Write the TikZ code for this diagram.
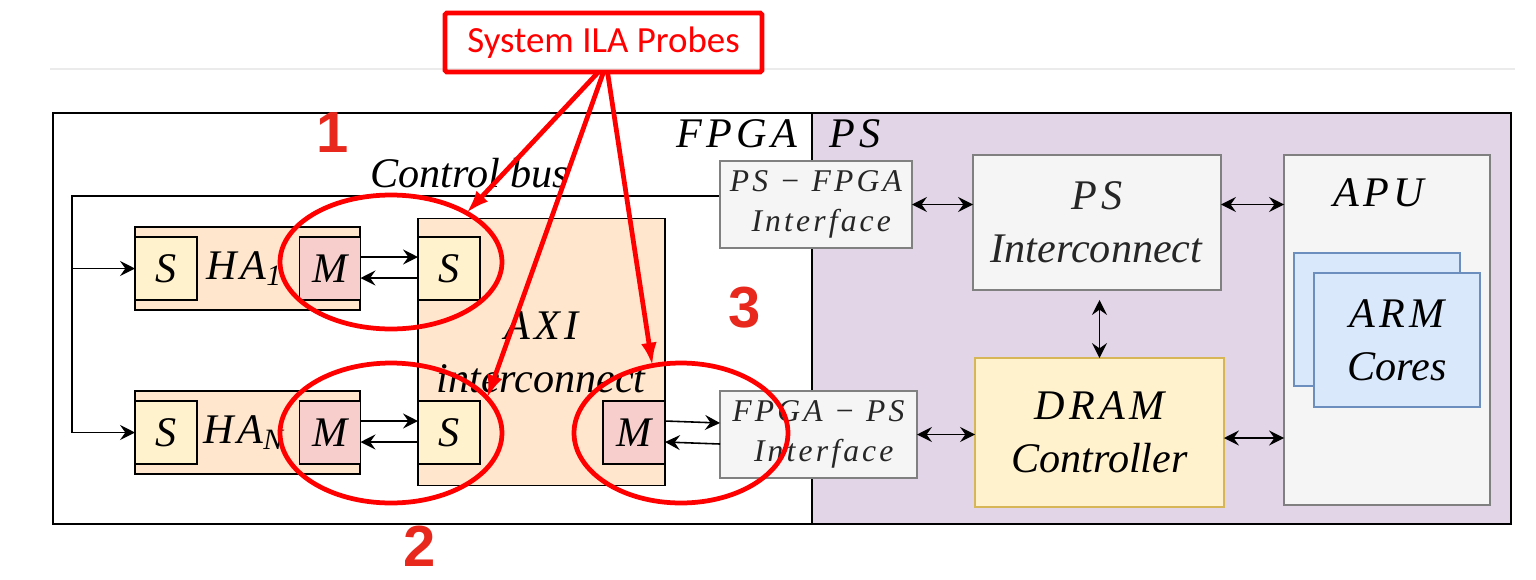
\documentclass[tikz,border=0pt]{standalone}
\usepackage{fontspec}
\setmainfont{Liberation Serif}
\newfontfamily\spacedfont[LetterSpace=10]{Liberation Serif}
\newfontfamily\ilafont{Carlito}
\newfontfamily\numfont{Liberation Sans}
\newcommand{\mt}[1]{{\spacedfont\itshape #1}}
\usepackage{tikz}
\usetikzlibrary{arrows,arrows.meta,shapes.geometric}
\definecolor{psbg}{HTML}{E1D5E7}
\definecolor{peach}{HTML}{FFE6CC}
\definecolor{slavebg}{HTML}{FFF2CC}
\definecolor{masterbg}{HTML}{F8CECC}
\definecolor{grayfill}{HTML}{F5F5F5}
\definecolor{grayline}{HTML}{808080}
\definecolor{dramline}{HTML}{D6B656}
\definecolor{armbg}{HTML}{DAE8FC}
\definecolor{armline}{HTML}{6C8EBF}
\definecolor{probered}{HTML}{FF0000}
\definecolor{numred}{HTML}{E8281C}

\begin{document}
\begin{tikzpicture}[x=0.02cm,y=-0.02cm,>={Stealth[length=8.5pt,width=8.5pt,inset=3pt]},line width=0.9pt,
  every node/.style={inner sep=0pt,outer sep=0pt}]
\tikzstyle{big}=[font=\fontsize{24}{30}\selectfont]
\tikzstyle{small}=[font=\fontsize{18}{25}\selectfont]
\tikzstyle{haport}=[draw,fill=peach,minimum width=4.5cm,minimum height=1.66cm]
\tikzstyle{sport}=[draw,fill=slavebg,big,minimum width=1.24cm,minimum height=1.26cm]
\tikzstyle{mport}=[draw,fill=masterbg,big,minimum width=1.22cm,minimum height=1.26cm]
\tikzstyle{graybox}=[draw=grayline,fill=grayfill,text=black!85,align=center]
\tikzstyle{probe}=[draw=probered,line width=2.7pt]
\tikzstyle{tag}=[text=numred,font=\numfont\bfseries\fontsize{33}{33}\selectfont]

\useasboundingbox (0,0) rectangle (1536,579);

% the two halves of the chip
\node[draw,fill=white,minimum width=15.18cm,minimum height=8.22cm] (fpga) at (432.5,318.5) {};
\node[draw,fill=psbg,minimum width=13.98cm,minimum height=8.22cm] (ps) at (1161.5,318.5) {};
\draw[black!8,line width=0.6pt] (50,69) -- (1515,69);
\node[big] (fpgalbl) at (737,134) {\mt{FPGA}};
\node[big] (pslbl) at (855,134) {\mt{PS}};

% control bus
\coordinate (cbend) at (720,196);
\coordinate (cbtop) at (72,196);
\coordinate (cbbot) at (72,432.5);
\node[big,font=\fontsize{24}{30}\selectfont\itshape] (cblbl) at (470,173) {Control bus};
\draw (cbend) -- (cbtop) -- (cbbot);

% hardware accelerators
\node[haport] (ha1) at (247.5,268.5) {};
\node[sport] (ha1s) at (166,268.5) {\mt{S}};
\node[big,anchor=west] (ha1lbl) at (206,268.5) {\mt{HA}\textsubscript{\mt{1}}};
\node[mport] (ha1m) at (330,268.5) {\mt{M}};

\node[haport] (han) at (247.5,432.5) {};
\node[sport] (hans) at (166,432.5) {\mt{S}};
\node[big,anchor=west] (hanlbl) at (203,432.5) {\mt{HA}\textsubscript{\mt{N}}};
\node[mport] (hanm) at (330,432.5) {\mt{M}};

\draw[->] (cbtop |- ha1s.west) -- (ha1s.west);
\draw[->] (cbbot) -- (hans.west);

% AXI interconnect
\node[draw,fill=peach,big,align=center,minimum width=4.94cm,minimum height=5.34cm] (axi) at (541.5,352)
  {\mt{AXI}\\\textit{interconnect}};
\node[sport] (axis1) at (449,268.5) {\mt{S}};
\node[sport] (axis2) at (449,432.5) {\mt{S}};
\node[mport,minimum width=1.24cm] (axim) at (634,432.5) {\mt{M}};

\draw[->] ([yshift=0.23cm]ha1m.east) -- ([yshift=0.23cm]axis1.west);
\draw[<-] ([yshift=-0.19cm]ha1m.east) -- ([yshift=-0.19cm]axis1.west);
\draw[->] ([yshift=0.23cm]hanm.east) -- ([yshift=0.23cm]axis2.west);
\draw[<-] ([yshift=-0.19cm]hanm.east) -- ([yshift=-0.19cm]axis2.west);

% processing system
\node[graybox,small,minimum width=3.84cm,minimum height=1.74cm] (psfpga) at (816,204.5)
  {\mt{PS − FPGA}\\[-2pt]\hspace{6pt}\mt{Interface}};
\node[graybox,small,minimum width=3.94cm,minimum height=1.74cm] (fpgaps) at (818.5,434.5)
  {\mt{FPGA − PS}\\[-2pt]\hspace{6pt}\mt{Interface}};
\node[graybox,big,minimum width=4.96cm,minimum height=2.7cm] (psint) at (1097,222.5)
  {\mt{PS}\\\textit{Interconnect}};
\node[draw=dramline,fill=slavebg,big,align=center,minimum width=4.98cm,minimum height=2.98cm] (dram) at (1099.5,432.5)
  {\mt{DRAM}\\\textit{Controller}};
\node[graybox,minimum width=4.12cm,minimum height=7cm] (apu) at (1387,330) {};
\node[big] (apulbl) at (1379,193) {\mt{APU}};
\node[draw=armline,fill=armbg,minimum width=3.32cm,minimum height=2.66cm] (armb) at (1377,319.5) {};
\node[draw=armline,fill=armbg,big,align=center,minimum width=3.32cm,minimum height=2.68cm] (armf) at (1397,340)
  {\mt{ARM}\\\textit{Cores}};

\draw[->] ([yshift=0.23cm]axim.east) -- ([yshift=0.23cm]fpgaps.west);
\draw[<-] ([yshift=-0.19cm]axim.east) -- ([yshift=-0.19cm]fpgaps.west);
\draw[<->] (psfpga.east) -- (psint.west |- psfpga.east);
\draw[<->] (psint.east |- psfpga.east) -- (apu.west |- psfpga.east);
\draw[<->] ([yshift=-0.2cm]psint.south -| dram.north) -- (dram.north);
\draw[<->] (fpgaps.east) -- (dram.west |- fpgaps.east);
\draw[<->] (dram.east |- 0,438) -- (apu.west |- 0,438);

% probes
\node[probe,draw,rounded corners=1pt,minimum width=6.34cm,minimum height=1.18cm,
  font=\ilafont\fontsize{21}{21}\selectfont,text=probered] (ila) at (603.5,42.5) {System ILA Probes};
\node[probe,ellipse,minimum width=4.44cm,minimum height=2.68cm] (probe1) at (391,262) {};
\node[probe,ellipse,minimum width=4.44cm,minimum height=2.8cm] (probe2) at (391,433) {};
\node[probe,ellipse,minimum width=4.28cm,minimum height=2.8cm] (probe3) at (681,433) {};
\draw[probe,-{Latex[length=13pt,width=9pt]}] ([xshift=-0.1cm]ila.south) -- (probe1.33);
\draw[probe,-{Latex[length=13pt,width=9pt]}] (ila.south) -- (probe2.20);
\draw[probe,-{Latex[length=13pt,width=9pt]}] ([xshift=0.08cm]ila.south) -- (probe3.113);

\node[tag] (tag1) at (333,133) {1};
\node[tag] (tag2) at (420,546) {2};
\node[tag] (tag3) at (745,308) {3};
\end{tikzpicture}
\end{document}
